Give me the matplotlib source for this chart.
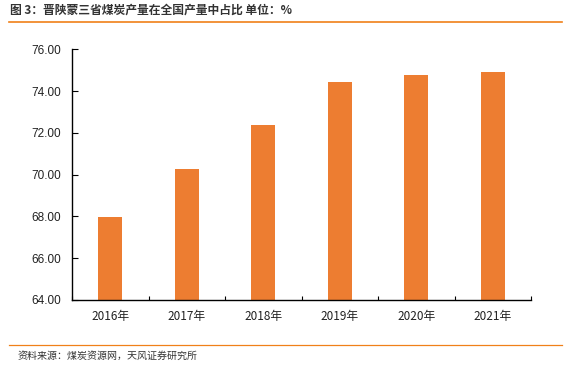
import matplotlib
matplotlib.use('Agg')
import matplotlib.pyplot as plt
import numpy as np

plt.rcParams['font.family'] = ['Noto Sans CJK SC', 'DejaVu Sans']

years = ['2016年', '2017年', '2018年', '2019年', '2020年', '2021年']
share = [67.97, 70.27, 72.37, 74.43, 74.77, 74.91]
yticks = [64, 66, 68, 70, 72, 74, 76]

title = '图 3：晋陕蒙三省煤炭产量在全国产量中占比 单位：%'
source = '资料来源：煤炭资源网，天风证券研究所'
orange = '#ED7D31'
line_orange = '#F08019'

fig = plt.figure(figsize=(5.73, 3.70), dpi=100)
ax = fig.add_axes([0.1257, 0.1892, 0.801, 0.6775])

x = np.arange(len(years))
ax.bar(x, share, width=0.31, color=orange, zorder=2)

ax.set_xlim(-0.5, len(years) - 0.5)
ax.set_ylim(64, 76)
ax.set_yticks(yticks)
ax.set_yticklabels([f'{v:.2f}' for v in yticks], fontsize=8.5, color='#222222',
                   family=['Liberation Sans', 'DejaVu Sans'])
ax.set_xticks(x)
ax.set_xticklabels(years, fontsize=8.5, color='#222222')
ax.set_xticks(np.arange(len(years) + 1) - 0.5, minor=True)
ax.tick_params(axis='x', which='major', length=0, pad=7)
ax.tick_params(axis='x', which='minor', direction='in', length=3, width=0.8)
ax.tick_params(axis='y', direction='in', length=4, width=0.8, pad=8)

for s in ['top', 'right']:
    ax.spines[s].set_visible(False)
ax.spines['left'].set_linewidth(1.0)
ax.spines['bottom'].set_linewidth(1.0)

fig.text(0.017, 0.972, title, fontsize=8.5, fontweight='bold', color='#333333', va='center')
fig.add_artist(plt.Line2D([0.016, 0.981], [0.94, 0.94], color=line_orange, lw=1.2))
fig.add_artist(plt.Line2D([0.016, 0.981], [0.068, 0.068], color=line_orange, lw=0.9))
fig.text(0.03, 0.038, source, fontsize=7.2, color='#333333', va='center')

fig.savefig('out.png', dpi=100)
